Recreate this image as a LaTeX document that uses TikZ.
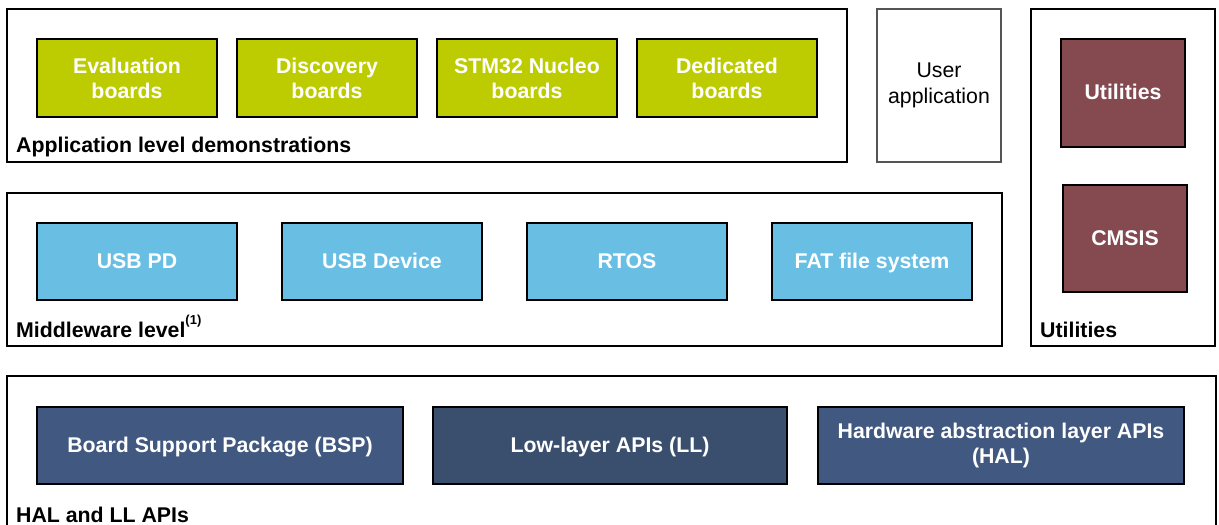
\documentclass[tikz,border=0pt]{standalone}
\usepackage{fontspec}
\setmainfont{Liberation Sans}
\definecolor{gboard}{RGB}{189,204,0}
\definecolor{bmid}{RGB}{105,190,228}
\definecolor{rutil}{RGB}{133,73,80}
\definecolor{dhal}{RGB}{65,89,128}
\definecolor{dll}{RGB}{58,78,110}
\definecolor{ugray}{RGB}{85,85,85}
\tikzset{
  frame/.style={draw=black, line width=1.6pt, fill=white, anchor=north west, inner sep=0pt, outer sep=0pt},
  ubox/.style={draw=ugray, line width=1.6pt, fill=white, anchor=north west, inner sep=0pt, outer sep=0pt, align=center, font=\fontsize{21.3}{26}\selectfont},
  inbox/.style={draw=black, line width=1.6pt, anchor=north west, inner sep=0pt, outer sep=0pt, align=center, text=white, font=\bfseries\fontsize{21.3}{25}\selectfont},
  oneline/.style={text height=16pt, text depth=3pt},
  green/.style={inbox, fill=gboard, minimum width=180pt, minimum height=78pt},
  blue/.style={inbox, oneline, fill=bmid, minimum width=200pt, minimum height=77pt},
  maroon/.style={inbox, oneline, fill=rutil, minimum width=124pt},
  navy/.style={inbox, fill=dhal, minimum height=77pt},
  lbl/.style={anchor=base west, inner sep=0pt, font=\bfseries\fontsize{21.3}{25}\selectfont}
}
\begin{document}
\begin{tikzpicture}[x=1pt,y=-1pt]
\clip (0,0) rectangle (1219,525);
\fill[white] (0,0) rectangle (1219,525);
% application level
\node[frame, minimum width=840pt, minimum height=153pt] (app) at (7,9) {};
\node[green] (eval) at (37,39) {Evaluation\\boards};
\node[green] (disc) at (237,39) {Discovery\\boards};
\node[green] (nucleo) at (437,39) {STM32 Nucleo\\boards};
\node[green] (ded) at (637,39) {Dedicated\\boards};
\node[lbl] (applbl) at (16,152) {Application level demonstrations};
% user application
\node[ubox, minimum width=124pt, minimum height=153pt] (user) at (877,9) {User\\application};
% utilities
\node[frame, minimum width=184pt, minimum height=337pt] (utilo) at (1031,9) {};
\node[maroon, minimum height=108pt] (util) at (1061,39) {Utilities};
\node[maroon, minimum height=107pt] (cmsis) at (1063,185) {CMSIS};
\node[lbl] (utillbl) at (1040,337) {Utilities};
% middleware
\node[frame, minimum width=995pt, minimum height=153pt] (mid) at (7,193) {};
\node[blue] (usbpd) at (37,223) {USB PD};
\node[blue] (usbdev) at (282,223) {USB Device};
\node[blue] (rtos) at (527,223) {RTOS};
\node[blue] (fat) at (772,223) {FAT file system};
\node[lbl] (midlbl) at (16,337) {Middleware level\raisebox{0.6em}{\fontsize{13}{15}\selectfont(1)}};
% HAL and LL
\node[frame, minimum width=1209pt, minimum height=170pt] (hal) at (7,376) {};
\node[navy, oneline, minimum width=366pt] (bsp) at (37,407) {Board Support Package (BSP)};
\node[navy, oneline, fill=dll, minimum width=354pt] (ll) at (433,407) {Low-layer APIs (LL)};
\node[navy, minimum width=366pt] (halapi) at (818,407) {Hardware abstraction layer APIs\\(HAL)};
\node[lbl] (hallbl) at (16,522) {HAL and LL APIs};
\end{tikzpicture}
\end{document}
